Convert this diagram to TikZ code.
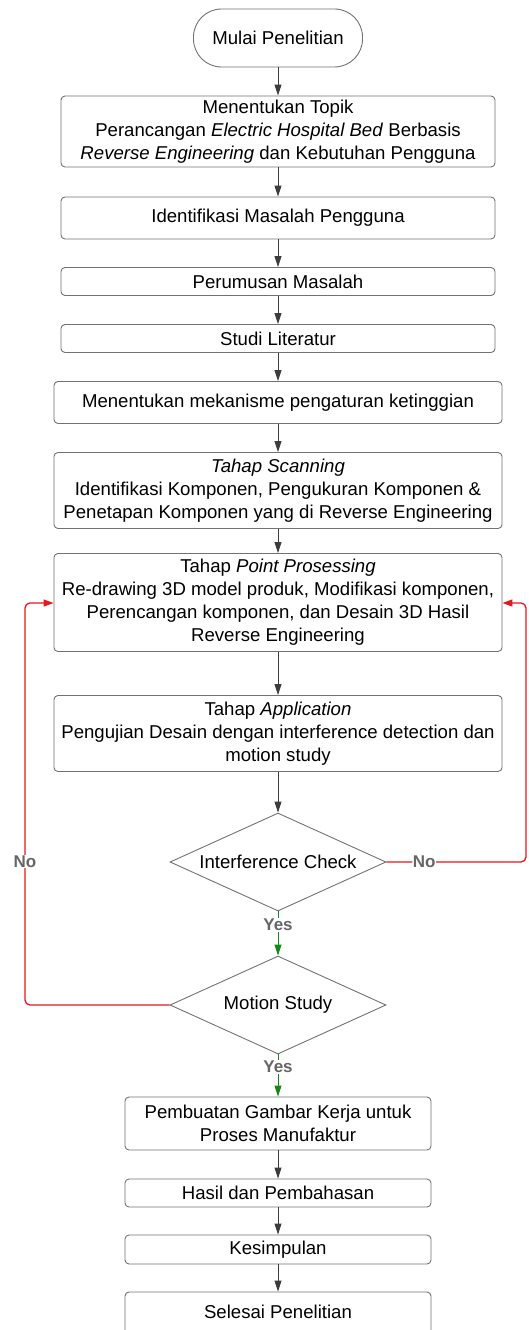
\documentclass[tikz,border=0pt]{standalone}
\usepackage{fontspec}
\setmainfont{Liberation Sans}
\usetikzlibrary{arrows.meta,shapes.geometric}
\definecolor{edgegray}{HTML}{3C3C3C}
\definecolor{boxgray}{HTML}{727272}
\definecolor{loopred}{HTML}{E3191C}
\definecolor{yesgreen}{HTML}{138A17}
\definecolor{lblgray}{HTML}{666666}
\tikzset{
  box/.style={draw=boxgray, line width=0.9pt, rounded corners=4pt, fill=white,
    inner sep=0pt, align=center, text=black,
    font=\fontsize{18.6}{23}\selectfont},
  term/.style={box, rounded corners=28pt},
  dec/.style={draw=boxgray, line width=0.9pt, diamond, aspect=2.2, inner sep=0pt,
    minimum width=216pt, minimum height=98pt, fill=white, align=center,
    font=\fontsize{18.6}{23}\selectfont},
  arr/.style={draw=edgegray, line width=0.9pt, -{Triangle[length=11pt,width=7pt]}},
  yesarr/.style={draw=yesgreen, line width=0.9pt, -{Triangle[length=11pt,width=7pt]}},
  noline/.style={draw=loopred, line width=1.3pt, rounded corners=5pt, -{Triangle[length=10pt,width=7pt]}},
  lbl/.style={fill=white, inner sep=1pt, text=lblgray, font=\fontsize{17}{20}\selectfont\bfseries},
}
\begin{document}
\begin{tikzpicture}[x=1pt,y=-1pt]
\useasboundingbox (0,0) rectangle (528,1330);

\node[term, minimum width=169pt, minimum height=58pt] (start) at (278,38) {Mulai Penelitian};
\node[box, minimum width=434pt, minimum height=71pt] (b1) at (278,131.5)
  {Menentukan Topik\\ Perancangan \textit{Electric Hospital Bed} Berbasis\\ \textit{Reverse Engineering} dan Kebutuhan Pengguna};
\node[box, minimum width=434pt, minimum height=42pt] (b2) at (278,218) {Identifikasi Masalah Pengguna};
\node[box, minimum width=434pt, minimum height=28pt] (b3) at (278,281.5) {Perumusan Masalah};
\node[box, minimum width=434pt, minimum height=28pt] (b4) at (278,338.5) {Studi Literatur};
\node[box, minimum width=448pt, minimum height=42pt] (b5) at (278,402.5) {Menentukan mekanisme pengaturan ketinggian};
\node[box, minimum width=448pt, minimum height=76pt] (b6) at (278,490.5)
  {\textit{Tahap Scanning}\\ Identifikasi Komponen, Pengukuran Komponen \&\\ Penetapan Komponen yang di Reverse Engineering};
\node[box, minimum width=448pt, minimum height=98pt] (b7) at (278,602.5)
  {Tahap \textit{Point Prosessing}\\ Re-drawing 3D model produk, Modifikasi komponen,\\ Perencangan komponen, dan Desain 3D Hasil\\ Reverse Engineering};
\node[box, minimum width=448pt, minimum height=76pt] (b8) at (278,733.5)
  {Tahap \textit{Application}\\ Pengujian Desain dengan interference detection dan\\ motion study};
\node[dec] (d1) at (278,862) {Interference Check};
\node[dec] (d2) at (278,1005) {Motion Study};
\node[box, minimum width=306pt, minimum height=53pt] (b9) at (278,1123.5) {Pembuatan Gambar Kerja untuk\\ Proses Manufaktur};
\node[box, minimum width=306pt, minimum height=28pt] (b10) at (278,1193) {Hasil dan Pembahasan};
\node[box, minimum width=306pt, minimum height=29pt] (b11) at (278,1249.5) {Kesimpulan};
\node[box, minimum width=306pt, minimum height=56pt] (b12) at (278,1320) {};
\node[font=\fontsize{18.6}{23}\selectfont] (t12) at (278,1312) {Selesai Penelitian};

\draw[arr] (start) -- (b1);
\draw[arr] (b1) -- (b2);
\draw[arr] (b2) -- (b3);
\draw[arr] (b3) -- (b4);
\draw[arr] (b4) -- (b5);
\draw[arr] (b5) -- (b6);
\draw[arr] (b6) -- (b7);
\draw[arr] (b7) -- (b8);
\draw[arr] (b8) -- (d1);
\draw[yesarr] (d1.south) -- node[lbl, pos=0.3] {Yes} (d2.north);
\draw[yesarr] (d2.south) -- node[lbl, pos=0.3] {Yes} (b9.north);
\draw[arr] (b9) -- (b10);
\draw[arr] (b10) -- (b11);
\draw[arr] (b11) -- (b12.north);

\coordinate (r1) at (526,862);
\coordinate (r2) at (526,603);
\coordinate (l1) at (25,1005);
\coordinate (l2) at (25,603);
\draw[noline] (d1.east) -- node[lbl, pos=0.27, inner sep=0.5pt] {No} (r1) -- (r2) -- (b7.east |- r2);
\draw[noline] (d2.west) -- (l1) -- node[lbl, pos=0.357, inner sep=0.5pt] {No} (l2) -- (b7.west |- l2);
\end{tikzpicture}
\end{document}
